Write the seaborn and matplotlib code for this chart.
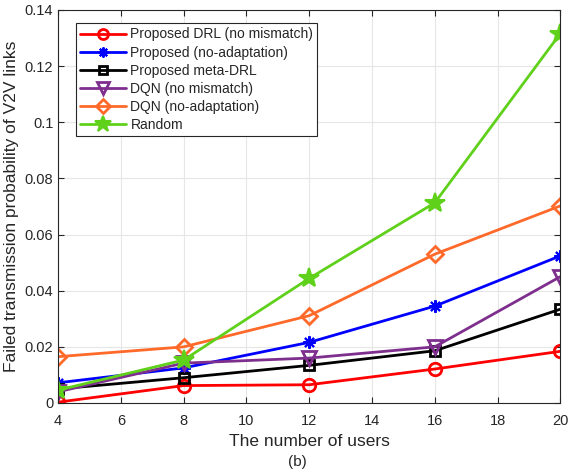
import matplotlib
matplotlib.use("Agg")
import matplotlib.pyplot as plt
import seaborn as sns
import pandas as pd
from matplotlib.ticker import FuncFormatter

users = [4, 8, 12, 16, 20]
drl_no_mismatch = [0.0003, 0.0062, 0.0065, 0.0121, 0.0184]
proposed_no_adapt = [0.0072, 0.0125, 0.0216, 0.0345, 0.0524]
meta_drl = [0.0050, 0.0090, 0.0134, 0.0186, 0.0334]
dqn_no_mismatch = [0.0040, 0.0142, 0.0160, 0.0200, 0.0450]
dqn_no_adapt = [0.0165, 0.0200, 0.0311, 0.0530, 0.0702]
random_sel = [0.0046, 0.0153, 0.0444, 0.0713, 0.1316]

labels = ["Proposed DRL (no mismatch)", "Proposed (no-adaptation)", "Proposed meta-DRL",
          "DQN (no mismatch)", "DQN (no-adaptation)", "Random"]
series = [drl_no_mismatch, proposed_no_adapt, meta_drl, dqn_no_mismatch, dqn_no_adapt, random_sel]
colors = ["#ff0000", "#0000ff", "#000000", "#7e2f8e", "#ff6929", "#5fd11b"]
markers = ["o", (8, 2, 0), "s", "v", "D", "*"]
msizes = [9, 9, 7, 10, 8.5, 15]

sns.set_style("whitegrid")
plt.rcParams['font.family'] = ['Liberation Sans', 'DejaVu Sans']

fig = plt.figure(figsize=(5.7, 4.73), dpi=100)
ax = fig.add_axes([0.102, 0.148, 0.881, 0.831])

for lab, vals, c, m, ms in zip(labels, series, colors, markers, msizes):
    df = pd.DataFrame({"users": users, "p": vals})
    filled = lab == "Random" or lab == "Proposed (no-adaptation)"
    sns.lineplot(data=df, x="users", y="p", ax=ax, color=c, marker=m, markersize=ms,
                 linewidth=2, label=lab,
                 markerfacecolor=c if filled else "none",
                 markeredgecolor=c, markeredgewidth=2 if not filled else 1.5)

ax.set_xlim(4, 20)
ax.set_ylim(0, 0.14)
ax.set_xticks(range(4, 21, 2))
ax.set_yticks([0, 0.02, 0.04, 0.06, 0.08, 0.1, 0.12, 0.14])
ax.yaxis.set_major_formatter(FuncFormatter(lambda v, p: "%g" % round(v, 2)))
ax.grid(True, color="#e6e6e6", linewidth=0.8)
for s in ax.spines.values():
    s.set_visible(True)
    s.set_color("#262626")
    s.set_linewidth(0.8)
ax.tick_params(direction="in", length=4, labelsize=10.5, colors="#262626",
               top=True, right=True, bottom=True, left=True)
ax.tick_params(axis="x", pad=8)
ax.set_xlabel("The number of users", fontsize=12.5, labelpad=4)
ax.set_ylabel("Failed transmission probability of V2V links", fontsize=12.5, labelpad=4)

leg = ax.legend(loc="upper left", bbox_to_anchor=(0.036, 0.966), borderaxespad=0,
                fontsize=10, handlelength=3.3, frameon=True, markerscale=0.8,
                fancybox=False, borderpad=0.3, labelspacing=0.3, handletextpad=0.3)
leg.get_frame().set_edgecolor("#262626")
leg.get_frame().set_linewidth(0.8)
leg.get_frame().set_alpha(1)

fig.text(0.521, 0.008, "(b)", ha="center", va="bottom", fontsize=11)

fig.savefig("out.png", dpi=100)
